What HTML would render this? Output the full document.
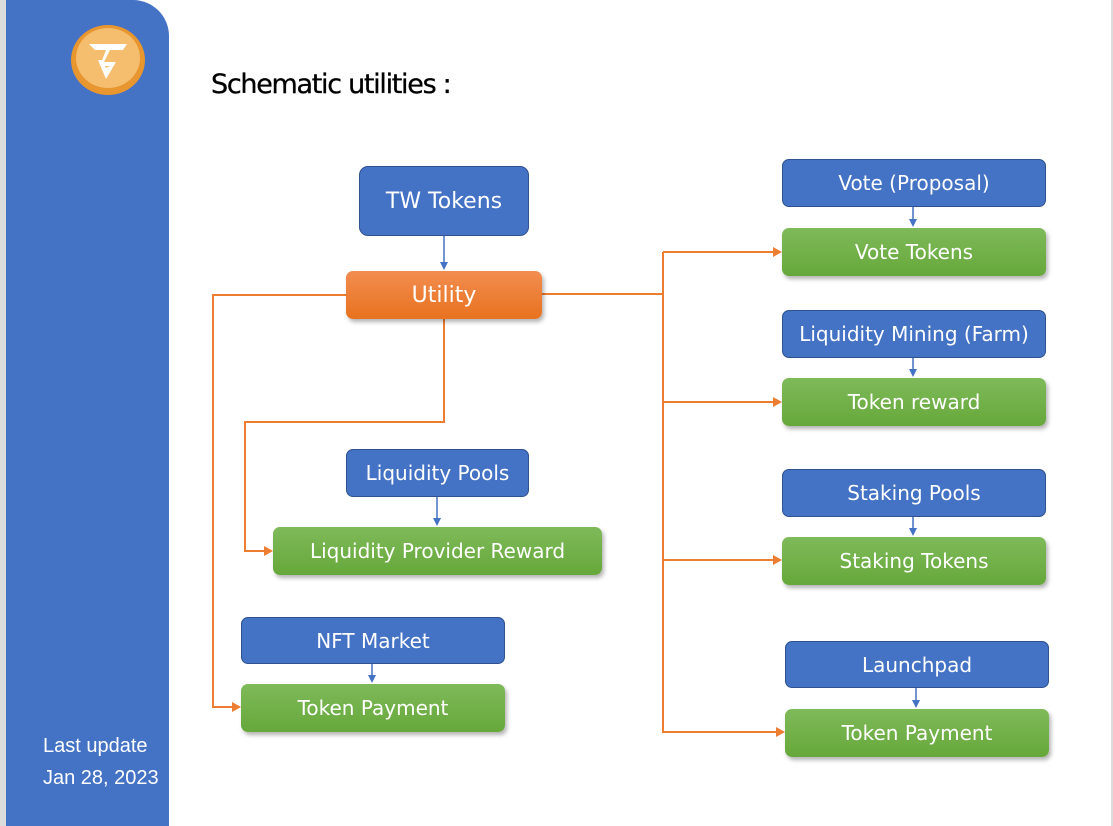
<!DOCTYPE html>
<html><head><meta charset="utf-8"><style>
*{margin:0;padding:0;box-sizing:border-box}
body{width:1113px;height:826px;position:relative;background:#fff;overflow:hidden;font-family:"DejaVu Sans","Liberation Sans",sans-serif}
.g{position:absolute;top:0;bottom:0;background:#dcdcdc}
.side{position:absolute;left:6px;top:0;width:163px;height:826px;background:#4472c4;border-top-right-radius:36px}
.b{position:absolute;display:flex;align-items:center;justify-content:center;color:#fff;font-size:20px;border-radius:7px}
.bl{background:#4472c4;border:1px solid #2f528f}
.gr{background:linear-gradient(#7fba5a,#66a83a);box-shadow:2px 3px 4px rgba(0,0,0,.3)}
.or{background:linear-gradient(#f28d50,#e8721f);box-shadow:2px 3px 4px rgba(0,0,0,.3)}
</style></head><body>
<div class="g" style="left:0;width:6px"></div>
<div class="g" style="left:1111px;width:2px"></div>
<div class="side"></div>
<svg style="position:absolute;left:0;top:0" width="1113" height="826">
<ellipse cx="108" cy="60" rx="37" ry="35" fill="#e8962f"/>
<ellipse cx="108" cy="58" rx="32" ry="30" fill="#f5bd6e"/>
<path d="M89 44 H127 L123 50 H110 L104 62 H116 L106 79 L98 60 H102 L106 68 L110 66 H100 L106 50 H95 Z" fill="#fff"/>
<text x="43" y="752" font-family="Liberation Sans" font-size="20" fill="#fff">Last update</text>
<text x="43" y="784" font-family="Liberation Sans" font-size="20" fill="#fff">Jan 28, 2023</text>
<text x="211" y="93" font-family="DejaVu Sans" font-size="27" fill="#000" letter-spacing="-1.3" stroke="#000" stroke-width="0.3">Schematic utilities :</text>
<g stroke="#ed7d31" stroke-width="2" fill="none">
<path d="M346 295 H213 V707 H234"/>
<path d="M542 294 H663"/>
<path d="M663 252 V732 H778"/>
<path d="M663 252 H775 M663 402 H775 M663 560 H775"/>
<path d="M444 319 V422 H245 V551 H266"/>
</g>
<g fill="#ed7d31">
<path d="M241 707 l-9 -5 v10z"/><path d="M273 551 l-9 -5 v10z"/>
<path d="M782 252 l-9 -5 v10z"/><path d="M782 402 l-9 -5 v10z"/>
<path d="M782 560 l-9 -5 v10z"/><path d="M785 732 l-9 -5 v10z"/>
</g>
<g stroke="#4472c4" stroke-width="1.5">
<path d="M444 236 V264 M913 207 V221 M913 358 V371 M913 517 V530 M916 688 V702 M437 497 V520 M372 664 V677"/>
</g>
<g fill="#4472c4">
<path d="M444 270 l-4 -8 h8z"/><path d="M913 227 l-4 -8 h8z"/><path d="M913 377 l-4 -8 h8z"/>
<path d="M913 536 l-4 -8 h8z"/><path d="M916 708 l-4 -8 h8z"/><path d="M437 526 l-4 -8 h8z"/><path d="M372 683 l-4 -8 h8z"/>
</g>
</svg>
<div class="b bl" style="left:359px;top:166px;width:170px;height:70px;font-size:22px;border-radius:9px">TW Tokens</div>
<div class="b or" style="left:346px;top:271px;width:196px;height:48px;font-size:22px">Utility</div>
<div class="b bl" style="left:782px;top:159px;width:264px;height:48px">Vote (Proposal)</div>
<div class="b gr" style="left:782px;top:228px;width:264px;height:48px">Vote Tokens</div>
<div class="b bl" style="left:782px;top:310px;width:264px;height:48px">Liquidity Mining (Farm)</div>
<div class="b gr" style="left:782px;top:378px;width:264px;height:48px">Token reward</div>
<div class="b bl" style="left:782px;top:469px;width:264px;height:48px">Staking Pools</div>
<div class="b gr" style="left:782px;top:537px;width:264px;height:48px">Staking Tokens</div>
<div class="b bl" style="left:785px;top:641px;width:264px;height:47px">Launchpad</div>
<div class="b gr" style="left:785px;top:709px;width:264px;height:48px">Token Payment</div>
<div class="b bl" style="left:346px;top:449px;width:183px;height:48px">Liquidity Pools</div>
<div class="b gr" style="left:273px;top:527px;width:329px;height:48px">Liquidity Provider Reward</div>
<div class="b bl" style="left:241px;top:617px;width:264px;height:47px">NFT Market</div>
<div class="b gr" style="left:241px;top:684px;width:264px;height:48px">Token Payment</div>
</body></html>
